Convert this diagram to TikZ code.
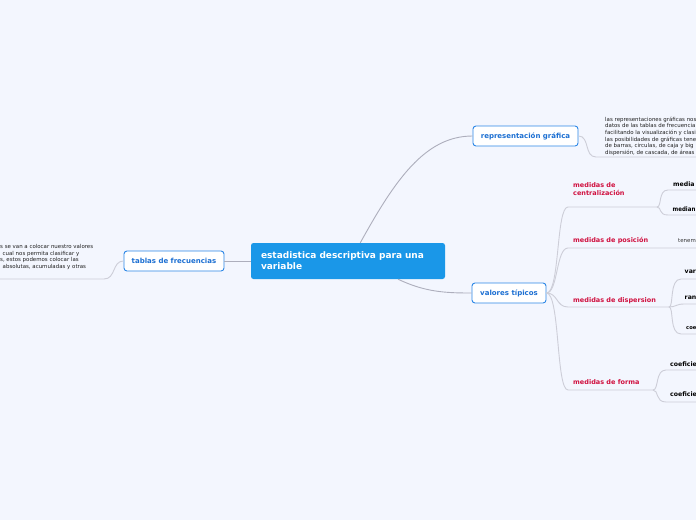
\documentclass[tikz,border=0pt]{standalone}
\usepackage{fontspec}
\setmainfont{DejaVu Sans}
\definecolor{bg}{HTML}{F3F6FE}
\definecolor{mainblue}{HTML}{1A97E8}
\definecolor{nodeblue}{HTML}{2B86E6}
\definecolor{nodetext}{HTML}{1C6FD2}
\definecolor{redlab}{HTML}{D0103F}
\definecolor{conn}{HTML}{ADAEBC}
\definecolor{lconn}{HTML}{CDCED8}
\tikzset{
  central/.style={rectangle, rounded corners=2.5pt, fill=mainblue, text=white,
    font=\fontsize{9}{11}\selectfont\bfseries, align=left, text width=174pt,
    inner xsep=10pt, minimum height=36pt},
  topic/.style={rectangle, rounded corners=3pt, draw=nodeblue, line width=0.9pt, fill=white,
    text=nodetext, font=\fontsize{7.0}{8}\selectfont\bfseries, minimum height=20pt, inner sep=0pt},
  redl/.style={text=redlab, font=\fontsize{6.5}{8}\selectfont\bfseries, anchor=base west, inner sep=0pt, align=left},
  blk/.style={text=black, font=\fontsize{6.2}{8}\selectfont\bfseries, anchor=base west, inner sep=0pt},
  leaf/.style={text=black!88, font=\fontsize{5.45}{6.7}\selectfont, anchor=north west, inner sep=0pt, align=left},
  mconn/.style={draw=conn, line width=0.9pt},
  sconn/.style={draw=lconn, line width=0.9pt},
}
\begin{document}
\begin{tikzpicture}[x=1pt,y=-1pt]
\fill[bg] (0,0) rectangle (696,520);
\useasboundingbox (0,0) rectangle (696,520);
\begin{scope}
\clip (0,0) rectangle (696,520);
% main nodes
\node[central] (c) at (348,261) {estadistica descriptiva para una\\variable};
\node[topic, minimum width=105pt] (r) at (525.5,136) {representación gráfica};
\node[topic, minimum width=74pt] (v) at (509,293) {valores típicos};
\node[topic, minimum width=100pt] (t) at (174,261) {tablas de frecuencias};
% main connectors
\draw[mconn] (c.56) .. controls (395,180) and (425,136) .. (r.west);
\draw[mconn] (c.-20) .. controls (425,292) and (445,293) .. (v.west);
\draw[mconn] (c.west) -- (t.east);
% tablas leaf
\node[leaf] (tl) at (0,244) {s se van a colocar nuestro valores\\
\hspace*{2.5pt}cual nos permita clasificar y\\
s, estos podemos colocar las\\
\hspace*{2.5pt}absolutas, acumuladas y otras};
\coordinate (tl1) at (0,279);
\coordinate (tl2) at (104,279);
\draw[sconn] (t.west) .. controls (112,261) and (116,279) .. (tl2) -- (tl1);
% representacion leaf
\node[leaf] (rl) at (605,116.5) {las representaciones gráficas nos\\
datos de las tablas de frecuencia\\
facilitando la visualización y clasi\\
las posibilidades de gráficas tene\\
de barras, circulas, de caja y big\\
dispersión, de cascada, de áreas};
\coordinate (rl1) at (596,157);
\coordinate (rl2) at (696,157);
\draw[sconn] (r.east) .. controls (590,136) and (584,157) .. (rl1) -- (rl2);
% valores children
\node[redl] (m1) at (573,195.5) {medidas de\\centralización};
\node[redl] (m2) at (573,242.5) {medidas de posición};
\node[redl] (m3) at (573,302.5) {medidas de dispersion};
\node[redl] (m4) at (573,384.5) {medidas de forma};
\coordinate (u1a) at (568,207); \coordinate (u1b) at (657,207);
\coordinate (u2a) at (568,248); \coordinate (u2b) at (696,248);
\coordinate (u3a) at (568,307); \coordinate (u3b) at (669,307);
\coordinate (u4a) at (568,390); \coordinate (u4b) at (653,390);
\draw[sconn] (v.east) .. controls (560,293) and (556,207) .. (u1a) -- (u1b);
\draw[sconn] (v.east) .. controls (558,293) and (556,248) .. (u2a) -- (u2b);
\draw[sconn] (v.east) .. controls (558,293) and (556,307) .. (u3a) -- (u3b);
\draw[sconn] (v.east) .. controls (560,293) and (556,390) .. (u4a) -- (u4b);
% centralizacion children
\node[blk] (a1) at (673,186.5) {media};
\node[blk, xscale=0.88] (a2) at (672.5,211.5) {median};
\coordinate (a1u) at (696,190); \coordinate (a2u) at (696,215);
\draw[sconn] (u1b) .. controls (662,207) and (658,190) .. (668,190) -- (a1u);
\draw[sconn] (u1b) .. controls (662,207) and (658,215) .. (668,215) -- (a2u);
% posicion child
\node[leaf, anchor=base west, text=black!80] (b1) at (678,242.5) {tenem};
% dispersion children
\node[blk] (d1) at (684.5,273.5) {var};
\node[blk] (d2) at (684.5,299.5) {ran};
\node[blk, font=\fontsize{5.2}{6}\selectfont\bfseries] (d3) at (686,329) {coe};
\coordinate (d1u) at (696,279); \coordinate (d2u) at (696,304); \coordinate (d3u) at (696,334);
\draw[sconn] (u3b) .. controls (674,307) and (669,279) .. (681,279) -- (d1u);
\draw[sconn] (u3b) .. controls (676,307) and (676,304) .. (684,304) -- (d2u);
\draw[sconn] (u3b) .. controls (674,307) and (669,334) .. (681,334) -- (d3u);
% forma children
\node[blk] (f1) at (670,366.5) {coeficie};
\node[blk] (f2) at (670,396.5) {coeficie};
\coordinate (f1u) at (696,370); \coordinate (f2u) at (696,402);
\draw[sconn] (u4b) .. controls (659,390) and (655,370) .. (666,370) -- (f1u);
\draw[sconn] (u4b) .. controls (659,390) and (655,402) .. (666,402) -- (f2u);
\end{scope}
\end{tikzpicture}
\end{document}
